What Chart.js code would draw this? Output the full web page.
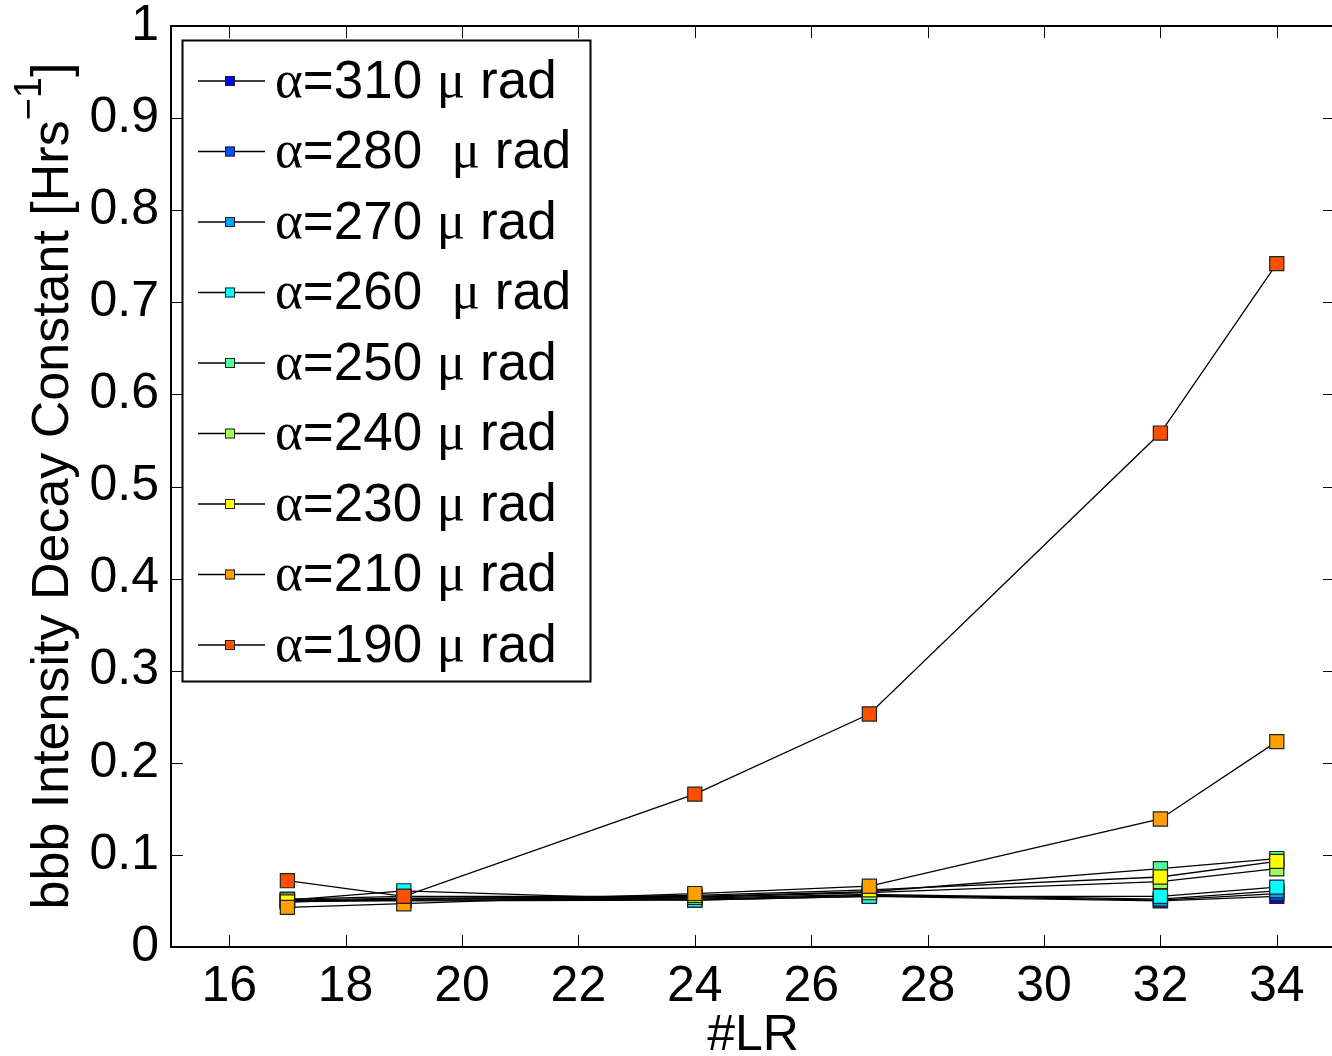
<!DOCTYPE html>
<html>
<head>
<meta charset="utf-8">
<script src="https://cdn.jsdelivr.net/npm/chart.js@4.4.1/dist/chart.umd.min.js"></script>
<style>
  html, body { margin: 0; padding: 0; background: #fff; overflow: hidden; }
</style>
</head>
<body>
<canvas id="decayChart" width="1336" height="1056"></canvas>
<script>
// #LR values (x) and decay constants per divergence angle
const lrValues = [17, 19, 24, 27, 32, 34];

const seriesLabels = [
  'α=310 μ rad', 'α=280  μ rad', 'α=270 μ rad', 'α=260  μ rad', 'α=250 μ rad',
  'α=240 μ rad', 'α=230 μ rad', 'α=210 μ rad', 'α=190 μ rad',
];
const seriesColors = [
  '#0000ff', '#0050ff', '#00a0ff', '#00ffff', '#50ffa0',
  '#a0ff50', '#ffff00', '#ffa000', '#ff5000',
];

const a310 = [0.050, 0.050, 0.051, 0.055, 0.050, 0.055];
const a280 = [0.049, 0.051, 0.052, 0.056, 0.051, 0.058];
const a270 = [0.050, 0.052, 0.053, 0.057, 0.052, 0.061];
const a260 = [0.051, 0.061, 0.051, 0.055, 0.055, 0.065];
const a250 = [0.052, 0.055, 0.055, 0.060, 0.085, 0.096];
const a240 = [0.051, 0.053, 0.054, 0.059, 0.071, 0.085];
const a230 = [0.049, 0.052, 0.056, 0.062, 0.076, 0.093];
const a210 = [0.043, 0.047, 0.058, 0.066, 0.139, 0.223];
const a190 = [0.072, 0.055, 0.166, 0.253, 0.558, 0.742];
const seriesValues = [a310, a280, a270, a260, a250, a240, a230, a210, a190];

const xTicks = [16, 18, 20, 22, 24, 26, 28, 30, 32, 34];
const yTicks = [0, 0.1, 0.2, 0.3, 0.4, 0.5, 0.6, 0.7, 0.8, 0.9, 1];

const SANS = "'Liberation Sans', Arial, sans-serif";
const SERIF = "'Liberation Serif', 'Times New Roman', serif";
const TICK_LEN = 12;

// MATLAB-style box: frame plus inward ticks on all four sides
const boxPlugin = {
  id: 'box',
  afterDatasetsDraw(chart) {
    const { ctx, chartArea: a, scales } = chart;
    ctx.save();
    ctx.strokeStyle = '#000';
    ctx.lineWidth = 1;
    ctx.beginPath();
    xTicks.forEach(v => {
      const px = Math.round(scales.x.getPixelForValue(v)) + 0.5;
      ctx.moveTo(px, a.bottom); ctx.lineTo(px, a.bottom - TICK_LEN);
      ctx.moveTo(px, a.top); ctx.lineTo(px, a.top + TICK_LEN);
    });
    yTicks.forEach(v => {
      const py = Math.round(scales.y.getPixelForValue(v)) + 0.5;
      ctx.moveTo(a.left, py); ctx.lineTo(a.left + TICK_LEN, py);
      ctx.moveTo(a.right, py); ctx.lineTo(a.right - TICK_LEN, py);
    });
    ctx.stroke();
    ctx.lineWidth = 2;
    ctx.strokeRect(a.left, a.top, a.right - a.left, a.bottom - a.top);
    ctx.restore();
  },
};

// text with greek letters in a serif face, the rest in sans
function drawMixed(ctx, text, x, y, size) {
  let cx = x;
  for (const ch of text) {
    ctx.font = (/[α-ω]/.test(ch) ? `${size}px ${SERIF}` : `${size}px ${SANS}`);
    ctx.fillText(ch, cx, y);
    cx += ctx.measureText(ch).width;
  }
}

const legendPlugin = {
  id: 'boxLegend',
  afterDraw(chart) {
    const { ctx } = chart;
    const box = { x: 182.5, y: 40.5, w: 408, h: 641 };
    const rowTop = 81, rowStep = 70.5;
    ctx.save();
    ctx.fillStyle = '#fff';
    ctx.fillRect(box.x, box.y, box.w, box.h);
    ctx.strokeStyle = '#000';
    ctx.lineWidth = 2;
    ctx.strokeRect(box.x, box.y, box.w, box.h);
    chart.data.datasets.forEach((ds, i) => {
      const y = rowTop + i * rowStep;
      ctx.strokeStyle = '#000';
      ctx.lineWidth = 1.5;
      ctx.beginPath();
      ctx.moveTo(198, y); ctx.lineTo(265, y);
      ctx.stroke();
      ctx.fillStyle = ds.pointBackgroundColor;
      ctx.fillRect(225, y - 5, 10, 10);
      ctx.strokeStyle = '#222';
      ctx.lineWidth = 1;
      ctx.strokeRect(225.5, y - 4.5, 9, 9);
      ctx.fillStyle = '#000';
      ctx.textBaseline = 'middle';
      drawMixed(ctx, ds.label, 275, y + 2, 53);
    });
    ctx.restore();
  },
};

const yTitlePlugin = {
  id: 'yTitle',
  afterDraw(chart) {
    const { ctx } = chart;
    const main = 'bbb Intensity Decay Constant [Hrs';
    const sup = '−1';
    const size = 52, supSize = 38;
    ctx.save();
    ctx.fillStyle = '#000';
    ctx.textBaseline = 'alphabetic';
    ctx.font = `${size}px ${SANS}`;
    const w1 = ctx.measureText(main).width;
    const w3 = ctx.measureText(']').width;
    ctx.font = `${supSize}px ${SANS}`;
    const w2 = ctx.measureText(sup).width;
    const total = w1 + w2 + w3;
    ctx.translate(68, 486);
    ctx.rotate(-Math.PI / 2);
    let x = -total / 2;
    ctx.font = `${size}px ${SANS}`;
    ctx.fillText(main, x, 0);
    x += w1;
    ctx.font = `${supSize}px ${SANS}`;
    ctx.fillText(sup, x, -27);
    x += w2;
    ctx.font = `${size}px ${SANS}`;
    ctx.fillText(']', x, 0);
    ctx.restore();
  },
};

const datasets = seriesValues.map((vals, i) => ({
  label: seriesLabels[i],
  data: lrValues.map((x, j) => ({ x, y: vals[j] })),
  showLine: true,
  borderColor: '#000',
  borderWidth: 1.3,
  pointStyle: 'rect',
  pointRadius: 10,
  pointBackgroundColor: seriesColors[i],
  pointBorderColor: '#222',
  pointBorderWidth: 1.2,
  order: seriesValues.length - i,
  tension: 0,
  clip: false,
}));

Chart.defaults.font.family = SANS;
Chart.defaults.color = '#000';

new Chart(document.getElementById('decayChart'), {
  type: 'scatter',
  data: { datasets },
  options: {
    responsive: false,
    animation: false,
    events: [],
    layout: { autoPadding: false, padding: { top: 26, right: 1, bottom: 0, left: 0 } },
    plugins: { legend: { display: false }, tooltip: { enabled: false } },
    scales: {
      x: {
        type: 'linear',
        min: 15,
        max: 35,
        grid: { display: false, drawTicks: false },
        border: { display: false },
        afterBuildTicks: s => { s.ticks = xTicks.map(v => ({ value: v })); },
        afterFit: s => { s.height = 109; s.paddingLeft = 0; s.paddingRight = 0; },
        ticks: { font: { size: 50 }, padding: 10, maxRotation: 0, autoSkip: false },
        title: { display: true, text: '#LR', font: { size: 50, lineHeight: 1 }, padding: { top: 0, bottom: -5 } },
      },
      y: {
        type: 'linear',
        min: 0,
        max: 1,
        grid: { display: false, drawTicks: false },
        border: { display: false },
        afterBuildTicks: s => { s.ticks = yTicks.map(v => ({ value: v })); },
        afterFit: s => { s.width = 171; s.paddingTop = 0; s.paddingBottom = 0; },
        ticks: { font: { size: 50 }, padding: 12, autoSkip: false, callback: v => String(v) },
      },
    },
  },
  plugins: [boxPlugin, legendPlugin, yTitlePlugin],
});
</script>
</body>
</html>
